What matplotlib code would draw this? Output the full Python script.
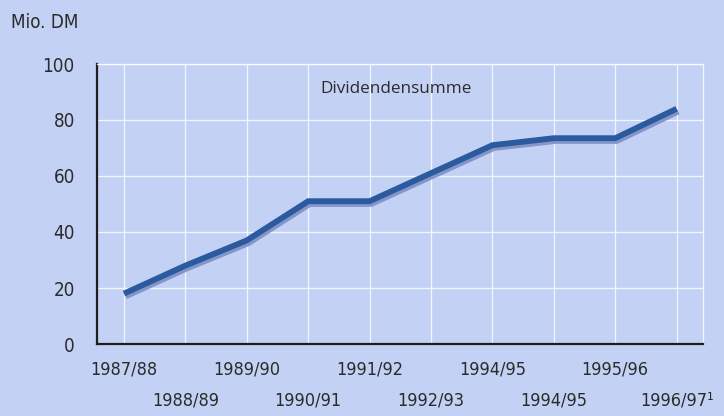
import matplotlib
matplotlib.use("Agg")
import matplotlib.pyplot as plt
import matplotlib.patheffects as pe
from matplotlib.transforms import ScaledTranslation

years = ["1987/88", "1988/89", "1989/90", "1990/91", "1991/92", "1992/93",
         "1994/95", "1994/95", "1995/96", "1996/97\u00b9"]
dividends = [18, 28, 37, 51, 51, 61, 71, 73.5, 73.5, 84]
yticks = [0, 20, 40, 60, 80, 100]

bg = "#c3d2f4"
line_col = "#2c5a9e"
text_col = "#2b2b2b"
fam = "DejaVu Sans"

fig = plt.figure(figsize=(7.24, 4.16), dpi=100, facecolor=bg)
ax = fig.add_axes([97/724, 1-344/416, (703-97)/724, (344-64)/416], facecolor=bg)

x = list(range(len(years)))
ax.plot(x, dividends, color=line_col, lw=4.2, solid_capstyle="butt", solid_joinstyle="miter",
        path_effects=[pe.SimpleLineShadow(offset=(1.2, -2.0), shadow_color="#7d8fc4", alpha=0.9),
                      pe.Normal()], zorder=3)

ax.set_xlim(-0.44, 9.43)
ax.set_ylim(0, 100)
ax.set_yticks(yticks)
ax.set_yticklabels([str(v) for v in yticks], fontsize=13.5, color=text_col, family=fam,
                   fontstretch="condensed")
ax.set_xticks(x)
ax.set_xticklabels(years, fontsize=13, color=text_col, family=fam, fontstretch="condensed")
ax.tick_params(length=0, pad=12)
ax.tick_params(axis="y", pad=16)

for i, lab in enumerate(ax.get_xticklabels()):
    if i % 2 == 1:
        lab.set_transform(lab.get_transform() + ScaledTranslation(0, -31/100, fig.dpi_scale_trans))

ax.grid(True, color="white", lw=0.9, alpha=0.8)
ax.set_axisbelow(True)
for s in ["top", "right"]:
    ax.spines[s].set_color("white")
    ax.spines[s].set_alpha(0.8)
    ax.spines[s].set_linewidth(0.9)
for s in ["left", "bottom"]:
    ax.spines[s].set_color("#1e1e1e")
    ax.spines[s].set_linewidth(1.6)

fig.text(11/724, 1-23/416, "Mio. DM", fontsize=13.5, color=text_col, family=fam,
         fontstretch="condensed", ha="left", va="center")
ax.text(3.2, 91, "Dividendensumme", fontsize=12.3, color=text_col, family="Open Sans",
        ha="left", va="center")

fig.savefig("out.png", dpi=100, facecolor=bg)
